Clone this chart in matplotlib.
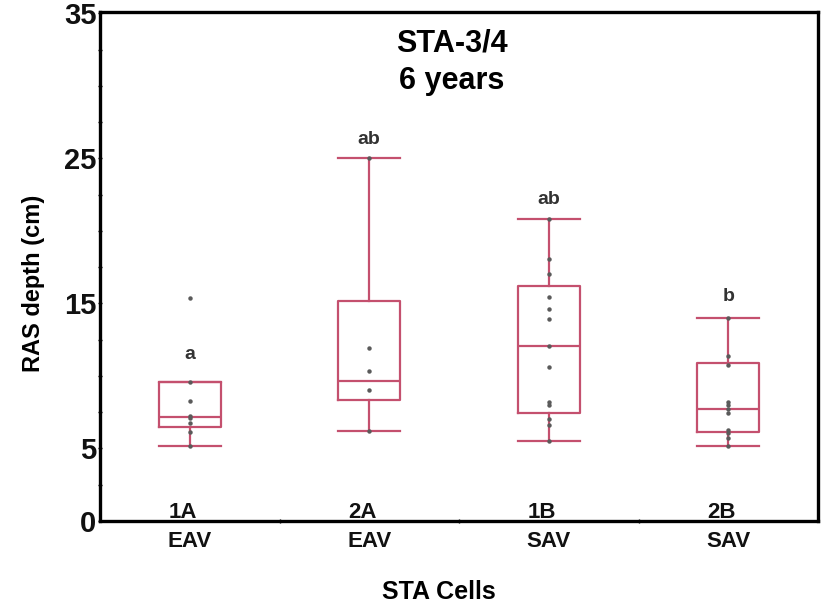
import matplotlib
matplotlib.use("Agg")
import matplotlib.pyplot as plt
from matplotlib.ticker import FixedLocator, MultipleLocator

plt.rcParams['font.family'] = ['Liberation Sans', 'DejaVu Sans']

# ---- data ----
cells = ["1A", "2A", "1B", "2B"]
veg = ["EAV", "EAV", "SAV", "SAV"]
letters = ["a", "ab", "ab", "b"]
letter_y = [11.5, 26.3, 22.2, 15.5]

whislo = [5.19, 6.21, 5.54, 5.19]
q1 = [6.50, 8.34, 7.43, 6.12]
med = [7.19, 9.68, 12.09, 7.70]
q3 = [9.61, 15.17, 16.23, 10.88]
whishi = [9.61, 25.06, 20.83, 14.02]

pts_1A = [15.4, 9.61, 8.30, 7.26, 7.10, 6.76, 6.16, 5.19]
pts_2A = [25.06, 11.91, 10.37, 9.03, 6.21]
pts_1B = [20.83, 18.05, 17.03, 15.47, 14.60, 13.91, 12.09, 10.64, 8.19, 8.00, 7.01, 6.62, 5.54]
pts_2B = [14.02, 11.38, 10.76, 8.23, 8.00, 7.70, 7.43, 6.28, 6.09, 5.70, 5.19]
points = [pts_1A, pts_2A, pts_1B, pts_2B]

ytick_major = [0, 5, 15, 25, 35]

# ---- figure ----
fig = plt.figure(figsize=(8.25, 6.13), dpi=100)
ax = fig.add_axes([100/825, 1-521/613, (818-100)/825, (521-12)/613])

box_color = "#C4506E"
positions = list(range(1, len(cells)+1))
stats = []
for i in range(len(cells)):
    stats.append(dict(med=med[i], q1=q1[i], q3=q3[i], whislo=whislo[i],
                      whishi=whishi[i], fliers=[], label=cells[i]))
lp = dict(color=box_color, linewidth=1.6)
ax.bxp(stats, positions=positions, widths=0.345, capwidths=0.345,
       showfliers=False, boxprops=lp, whiskerprops=lp, capprops=lp,
       medianprops=lp)

for i, p in enumerate(points):
    ax.plot([positions[i]]*len(p), p, 'o', color="#5a5a5a", markersize=3.2,
            markeredgewidth=0, zorder=5)

for i in range(len(cells)):
    ax.text(positions[i], letter_y[i], letters[i], ha='center', va='center',
            fontsize=14, fontweight='bold', color="#333333")
    ax.text(positions[i] - 0.04, 0.2, cells[i], ha='center', va='baseline',
            fontsize=16, fontweight='bold', color="#111111")

ax.set_xlim(0.5, 4.5)
ax.set_ylim(0, 35.1)
ax.set_xticks(positions)
ax.set_xticklabels(veg, fontsize=16, fontweight='bold', color="#111111")
ax.xaxis.set_minor_locator(FixedLocator([1.5, 2.5, 3.5]))
ax.tick_params(axis='x', which='major', length=0, pad=7)
ax.tick_params(axis='x', which='minor', length=3, width=1, direction='inout')

ax.yaxis.set_major_locator(FixedLocator(ytick_major))
ax.yaxis.set_minor_locator(MultipleLocator(2.5))
ax.set_yticklabels([str(v) for v in ytick_major], fontsize=21,
                   fontweight='bold', color="#111111")
ax.tick_params(axis='y', which='major', length=3, width=1, direction='inout', pad=1)
ax.tick_params(axis='y', which='minor', length=3, width=1, direction='inout')

for s in ax.spines.values():
    s.set_linewidth(2.4)
    s.set_color('black')

fig.text(452/825, 1-43/613, "STA-3/4", ha='center', va='center',
         fontsize=22, fontweight='bold')
fig.text(452/825, 1-81/613, "6 years", ha='center', va='center',
         fontsize=22, fontweight='bold')
fig.text(439/825, 1-592/613, "STA Cells", ha='center', va='center',
         fontsize=18, fontweight='bold')
fig.text(34/825, 1-283/613, "RAS depth (cm)", ha='center', va='center',
         rotation=90, fontsize=17, fontweight='bold')

fig.savefig("out.png", dpi=100, facecolor='white')
